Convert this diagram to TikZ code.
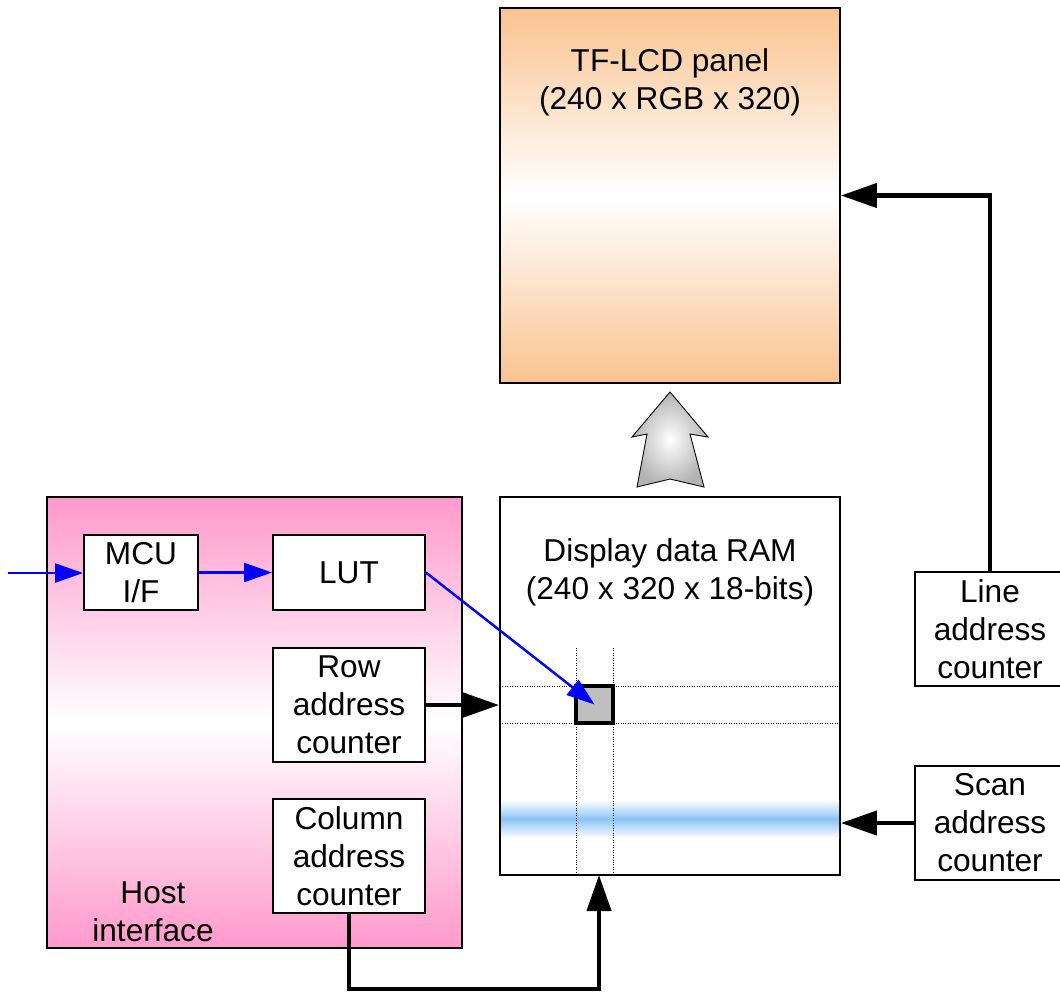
\documentclass[tikz,border=0pt]{standalone}
\usepackage{fontspec}
\setmainfont{Liberation Sans}
\usetikzlibrary{arrows.meta}
\definecolor{panelorange}{HTML}{FAC38F}
\definecolor{hostpink}{HTML}{FF99CC}
\definecolor{scanblue}{HTML}{8CC4F8}

\begin{document}
\begin{tikzpicture}[x=0.02cm,y=-0.02cm,
  box/.style={draw,line width=1.1pt,rectangle,inner sep=0pt,align=center,
    font=\fontsize{18}{21.6}\selectfont},
  txt/.style={align=center,font=\fontsize{18}{21.6}\selectfont},
  bluearrow/.style={draw=blue,line width=1.4pt,-{Triangle[length=0.56cm,width=0.38cm]}},
  thickarrow/.style={line width=2.5pt,-{Triangle[length=0.72cm,width=0.48cm]}}]
  \clip (0,0) rectangle (1060,992);
  \node[box,minimum width=6.8cm,minimum height=7.5cm,top color=panelorange,
    bottom color=panelorange,middle color=white] (panel) at (670,195.5) {};
  \node[txt] (paneltext) at (670,82) {TF-LCD panel\\(240 x RGB x 320)};
  \node[box,minimum width=6.8cm,minimum height=7.56cm,fill=white] (ram) at (670,686) {};
  \fill[top color=white,bottom color=white,middle color=scanblue] (501,800) rectangle (839,838);
  \draw[densely dotted,line width=0.4pt] (576,648) -- (576,875) (613,648) -- (613,875)
    (500,686) -- (840,686) (500,723) -- (840,723);
  \node[box,minimum width=0.74cm,minimum height=0.74cm,fill=black!25,line width=1.8pt] (cell) at (594.5,704.5) {};
  \node[txt] (ramtext) at (670,572) {Display data RAM\\(240 x 320 x 18-bits)};
  \shade[inner color=white,outer color=black!30,draw=black,line width=0.5pt]
    (670,392) -- (708,437) -- (690,434) -- (704,487) -- (670,479) -- (637,487)
    -- (647,434) -- (632,437) -- cycle;
  \node[box,minimum width=8.3cm,minimum height=9.02cm,top color=hostpink,
    bottom color=hostpink,middle color=white] (host) at (254.5,722.5) {};
  \node[txt] (hosttext) at (153,912) {Host\\interface};
  \node[box,minimum width=2.28cm,minimum height=1.5cm,fill=white] (mcu) at (141,572.5) {MCU\\I/F};
  \node[box,minimum width=3.04cm,minimum height=1.5cm,fill=white] (lut) at (349,572.5) {LUT};
  \node[box,minimum width=3.04cm,minimum height=2.28cm,fill=white] (row) at (349,705) {Row\\address\\counter};
  \node[box,minimum width=3.04cm,minimum height=2.28cm,fill=white] (col) at (349,856) {Column\\address\\counter};
  \node[box,minimum width=3.0cm,minimum height=2.28cm,fill=white] (line) at (990,629) {Line\\address\\counter};
  \node[box,minimum width=3.0cm,minimum height=2.28cm,fill=white] (scan) at (990,823) {Scan\\address\\counter};
  \coordinate (in) at (8,573);
  \coordinate (colin) at (599,875);
  \draw[bluearrow] (in) -- (mcu.west |- in);
  \draw[bluearrow] (mcu) -- (lut);
  \draw[bluearrow] (lut.east) -- (cell.center);
  \draw[thickarrow] (row.east) -- (row.east -| ram.west);
  \draw[thickarrow] (col.south) -- ++(0,75) -| (colin);
  \draw[thickarrow] (line.north) |- (panel.east);
  \draw[thickarrow] (scan.west) -- (scan.west -| ram.east);
\end{tikzpicture}
\end{document}
